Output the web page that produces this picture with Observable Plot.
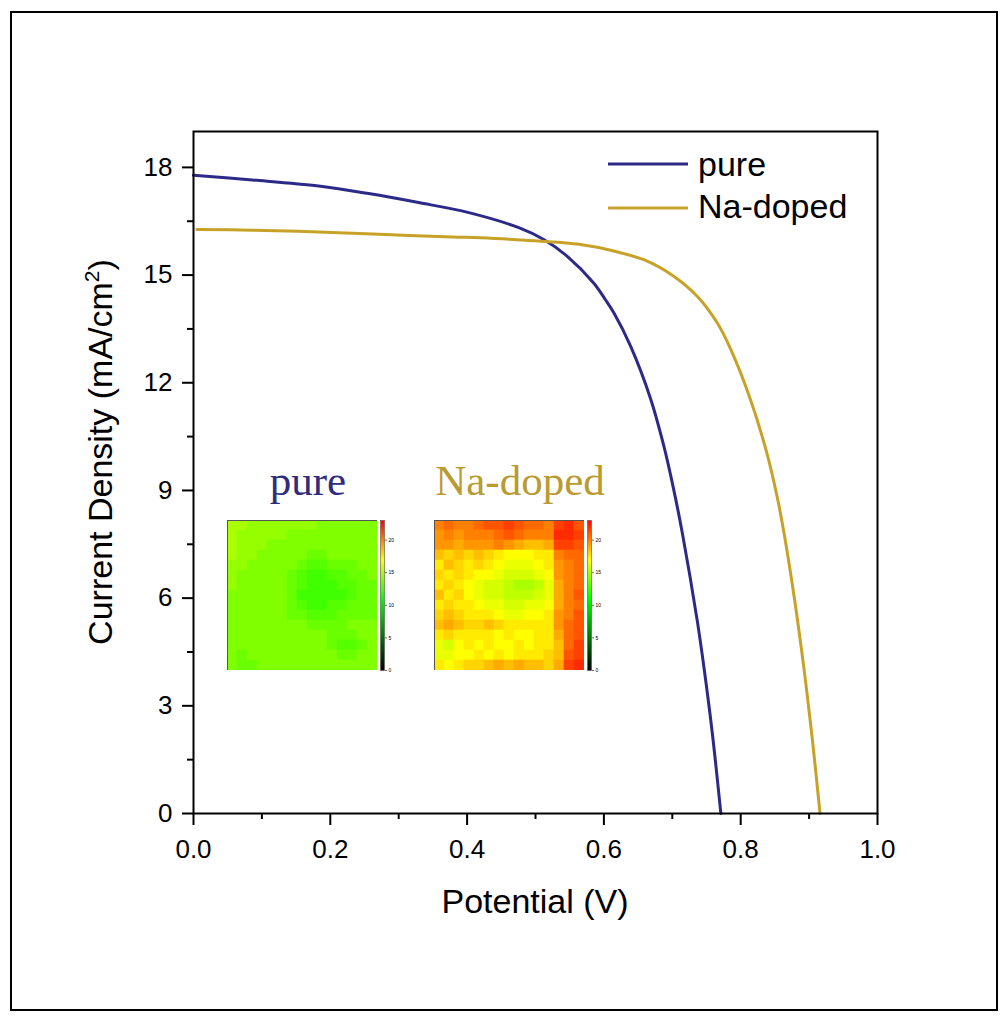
<!DOCTYPE html>
<html>
<head>
<meta charset="utf-8">
<script src="https://cdn.jsdelivr.net/npm/d3@7"></script>
<script src="https://cdn.jsdelivr.net/npm/@observablehq/plot@0.6"></script>
<style>
  html, body { margin: 0; padding: 0; background: #fff; }
  #wrap { position: relative; width: 1008px; height: 1019px; overflow: hidden; background: #fff; }
  #wrap > * { position: absolute; }
</style>
</head>
<body>
<div id="wrap"></div>
<script>
// ---------------- data ----------------
const seriesNames = ["pure", "Na-doped"];
const seriesColors = ["#2c2a88", "#c8a228"];

const pureV = [0, 0.086, 0.183, 0.256, 0.329, 0.4025, 0.4756, 0.512, 0.546, 0.585, 0.602, 0.6145, 0.639, 0.668, 0.6876, 0.702, 0.7145, 0.7364, 0.746, 0.7583, 0.771];
const pureJ = [17.78, 17.65, 17.48, 17.27, 17.02, 16.74, 16.32, 15.99, 15.53, 14.78, 14.32, 13.95, 13.02, 11.57, 10.24, 9.03, 7.83, 5.38, 4.11, 2.27, 0];

const naV = [0.005, 0.086, 0.183, 0.281, 0.378, 0.42, 0.4854, 0.5658, 0.6145, 0.6633, 0.702, 0.7364, 0.7656, 0.785, 0.8143, 0.837, 0.853, 0.863, 0.8787, 0.8924, 0.9045, 0.916];
const naJ = [16.27, 16.25, 16.20, 16.13, 16.06, 16.04, 15.97, 15.85, 15.67, 15.39, 14.97, 14.41, 13.67, 12.95, 11.53, 10.13, 8.85, 7.85, 5.97, 4.05, 2.11, 0];

const xMajorTicks = [0, 0.2, 0.4, 0.6, 0.8, 1.0];
const xMinorTicks = [0.1, 0.3, 0.5, 0.7, 0.9];
const yMajorTicks = [0, 3, 6, 9, 12, 15, 18];
const yMinorTicks = [1.5, 4.5, 7.5, 10.5, 13.5, 16.5];

const xTitle = "Potential (V)";
const yTitle = "Current Density (mA/cm";

// inset maps (Jsc map, rows top -> bottom)
const pureMap = [
  [15,15,14.5,14.5,14.5,14.5,14.5,14.5,14.5,14,14,14,14,14,14],
  [15,14.5,14.5,14.5,14.5,14.5,14,14,14,14,14,14,14,14,14],
  [15,14.5,14.5,14.5,14,14,14,14,14,14,14,14,14,14,14],
  [15,14.5,14.5,14,14,14,14,14,13.5,13.5,14,14,14,14,14],
  [14.5,14.5,14,14,14,14,14,13.5,13,13,13.5,13.5,13.5,14,14],
  [14.5,14,14,14,14,14,13.5,13,12.5,12.5,13,13,13.5,13.5,14],
  [14.5,14,14,14,14,14,13.5,13,12.5,12.5,12.5,13,13,13.5,13.5],
  [14,14,14,14,14,14,13.5,12.5,12.5,12.5,12.5,12.5,13,13.5,13.5],
  [14,14,14,14,14,14,13.5,13,12.5,12.5,13,13,13.5,13.5,13.5],
  [14,14,14,14,14,14,13.5,13.5,13,13,13,13.5,13.5,13.5,13.5],
  [14,14,14,14,14,14,14,14,13.5,13.5,13.5,13.5,14,14,14],
  [14,14,14,14,14,14,14,14,14,14,13.5,13.5,13.5,14,14],
  [14,14,14,14,14,14,14,14,14,14,13.5,13,13,13.5,14],
  [14,13.5,14,14,14,14,14,14,14,14,14,13.5,13.5,14,14],
  [14,13.5,13.5,14,14,14,14,14,14,14,14,14,14,14,14]
];
const naMap = [
  [20,20.5,20,20,20.5,21,21,21.5,21,20.5,20.5,20,21.5,22,21],
  [19.5,20,19.5,20,20,20,20.5,21,20.5,20,20,20,22,22,21.5],
  [19.5,19.5,19,19.5,19.5,19.5,20,19.5,19,18.5,18.5,19,21.5,21.5,21],
  [18.5,18,18.5,18,18.5,18,17.5,17,17,17,17.5,17.5,20,20.5,20.5],
  [17.5,18.5,18,17.5,18,17.5,17,16.5,16.5,16.5,17,17.5,19.5,20,20.5],
  [18,17.5,18,17.5,17,17,16.5,16,16,16,16.5,17,19.5,20,20.5],
  [17.5,18,17.5,17,16.5,16,16,15.5,15,15,15.5,16.5,19,20,20.5],
  [18.5,17.5,18,17,16.5,16,16,15.5,15.5,15.5,16,16.5,19,20,21],
  [17.5,18,17.5,17.5,17,16.5,16.5,16,16,16.5,16.5,17,19,20,20.5],
  [18,18.5,18,17.5,17.5,17.5,17,16.5,16.5,17,17,17.5,19.5,20,21],
  [18.5,19,18.5,18,18,18.5,18,17.5,17.5,17.5,17.5,17.5,19.5,20.5,21],
  [17.5,18,17.5,17.5,17.5,17.5,17,17.5,17,17,17.5,17.5,19,20.5,21],
  [16.5,16,17,17.5,17,17.5,17,17,17.5,17,17.5,17.5,18.5,20.5,21.5],
  [16.5,16.5,17,17,17.5,17,17.5,17,17.5,17.5,17.5,18,18.5,21,21.5],
  [17.5,17,17.5,18,18,18.5,19,18.5,19,18.5,18.5,18,19,21.5,22]
];
const cbarTicks = [0, 5, 10, 15, 20];
const cbarMax = 23;
const colorStops = [0, 11, 17, 23];
const colorRange = ["#000000", "#00ff00", "#ffff00", "#ff0000"];

// ---------------- build ----------------
const wrap = document.getElementById("wrap");
const curveData = [
  ...pureV.map((v, i) => ({V: v, J: pureJ[i], s: seriesNames[0]})),
  ...naV.map((v, i) => ({V: v, J: naJ[i], s: seriesNames[1]}))
];

const main = Plot.plot({
  width: 1008, height: 1019,
  marginLeft: 193, marginRight: 131, marginTop: 131, marginBottom: 206,
  style: {fontFamily: "'Liberation Sans', Arial, sans-serif", fontSize: "26px", color: "#000", background: "transparent"},
  x: {domain: [0, 1]},
  y: {domain: [0, 19]},
  color: {domain: seriesNames, range: seriesColors},
  marks: [
    Plot.line(curveData, {x: "V", y: "J", z: "s", stroke: "s", strokeWidth: 3, curve: "catmull-rom"}),
    Plot.frame({stroke: "#000", strokeWidth: 2}),
    Plot.axisX(xMajorTicks, {tickSize: 12, tickPadding: 14, strokeWidth: 2, tickFormat: d => d.toFixed(1), fontSize: 26, label: null}),
    Plot.axisX(xMinorTicks, {tickSize: 6, strokeWidth: 2, tickFormat: () => "", label: null}),
    Plot.axisY(yMajorTicks, {tickSize: 11, tickPadding: 10, strokeWidth: 2, tickFormat: d => String(d), fontSize: 26, label: null}),
    Plot.axisY(yMinorTicks, {tickSize: 6, strokeWidth: 2, tickFormat: () => "", label: null})
  ]
});
main.style.left = "0px"; main.style.top = "0px";
wrap.appendChild(main);

const colorScale = {type: "linear", domain: colorStops, range: colorRange, interpolate: "rgb"};

function heatmap(rows, left, top) {
  const data = rows.flatMap((row, r) => row.map((v, c) => ({r, c, v})));
  const p = Plot.plot({
    width: 150, height: 150, margin: 0,
    x: {type: "band", domain: d3.range(rows[0].length), padding: 0, axis: null},
    y: {type: "band", domain: d3.range(rows.length), padding: 0, axis: null},
    color: colorScale,
    style: {background: "transparent"},
    marks: [
      Plot.cell(data, {x: "c", y: "r", fill: "v", inset: -0.3}),
      Plot.frame({stroke: "#555", strokeWidth: 1})
    ]
  });
  p.style.left = left + "px"; p.style.top = top + "px";
  wrap.appendChild(p);
}
function colorbar(left, top) {
  const p = Plot.plot({
    width: 24, height: 156, marginTop: 3, marginBottom: 3, marginLeft: 0, marginRight: 20,
    x: {domain: [0, 1], axis: null},
    y: {domain: [0, cbarMax]},
    color: colorScale,
    style: {fontFamily: "'Liberation Sans', Arial, sans-serif", background: "transparent"},
    marks: [
      Plot.raster({x1: 0, x2: 1, y1: 0, y2: cbarMax, width: 1, height: 120, fill: (x, y) => y}),
      Plot.frame({stroke: "#555", strokeWidth: 0.6}),
      Plot.axisY(cbarTicks, {anchor: "right", tickSize: 2, tickPadding: 2, fontSize: 5, strokeWidth: 0.6, label: null})
    ]
  });
  p.style.left = left + "px"; p.style.top = top + "px";
  wrap.appendChild(p);
}
heatmap(pureMap, 227, 520);
colorbar(380, 517);
heatmap(naMap, 434, 520);
colorbar(587, 517);

// ---------------- overlay text, legend, outer frame ----------------
const NS = "http://www.w3.org/2000/svg";
const ov = document.createElementNS(NS, "svg");
ov.setAttribute("width", 1008); ov.setAttribute("height", 1019);
ov.style.left = "0px"; ov.style.top = "0px";
ov.setAttribute("font-family", "'Liberation Sans', Arial, sans-serif");
function el(tag, attrs, text) {
  const e = document.createElementNS(NS, tag);
  for (const k in attrs) e.setAttribute(k, attrs[k]);
  if (text != null) e.textContent = text;
  ov.appendChild(e);
  return e;
}
el("rect", {x: 11, y: 12, width: 986, height: 998, fill: "none", stroke: "#000", "stroke-width": 2});
// axis titles
el("text", {x: 535, y: 913, "text-anchor": "middle", "font-size": 34, fill: "#000"}, xTitle);
const yt = el("text", {transform: "translate(112,452) rotate(-90)", "text-anchor": "middle", "font-size": 34, fill: "#000"}, yTitle);
const sup = document.createElementNS(NS, "tspan");
sup.setAttribute("dy", -13); sup.setAttribute("font-size", 21); sup.textContent = "2";
yt.appendChild(sup);
const cl = document.createElementNS(NS, "tspan");
cl.setAttribute("dy", 13); cl.textContent = ")";
yt.appendChild(cl);
// legend
[[164, 176], [208, 218]].forEach(([ly, by], i) => {
  el("line", {x1: 608, x2: 688, y1: ly, y2: ly, stroke: seriesColors[i], "stroke-width": 3});
  el("text", {x: 698, y: by, "font-size": 34, fill: "#000"}, seriesNames[i]);
});
// inset titles
el("text", {x: 308, y: 495, "text-anchor": "middle", "font-size": 43, "font-family": "'Liberation Serif', 'Times New Roman', serif", fill: "#2f2c7d"}, seriesNames[0]);
el("text", {x: 520, y: 495, "text-anchor": "middle", "font-size": 43, "font-family": "'Liberation Serif', 'Times New Roman', serif", fill: "#b99b33"}, seriesNames[1]);
wrap.appendChild(ov);
</script>
</body>
</html>
